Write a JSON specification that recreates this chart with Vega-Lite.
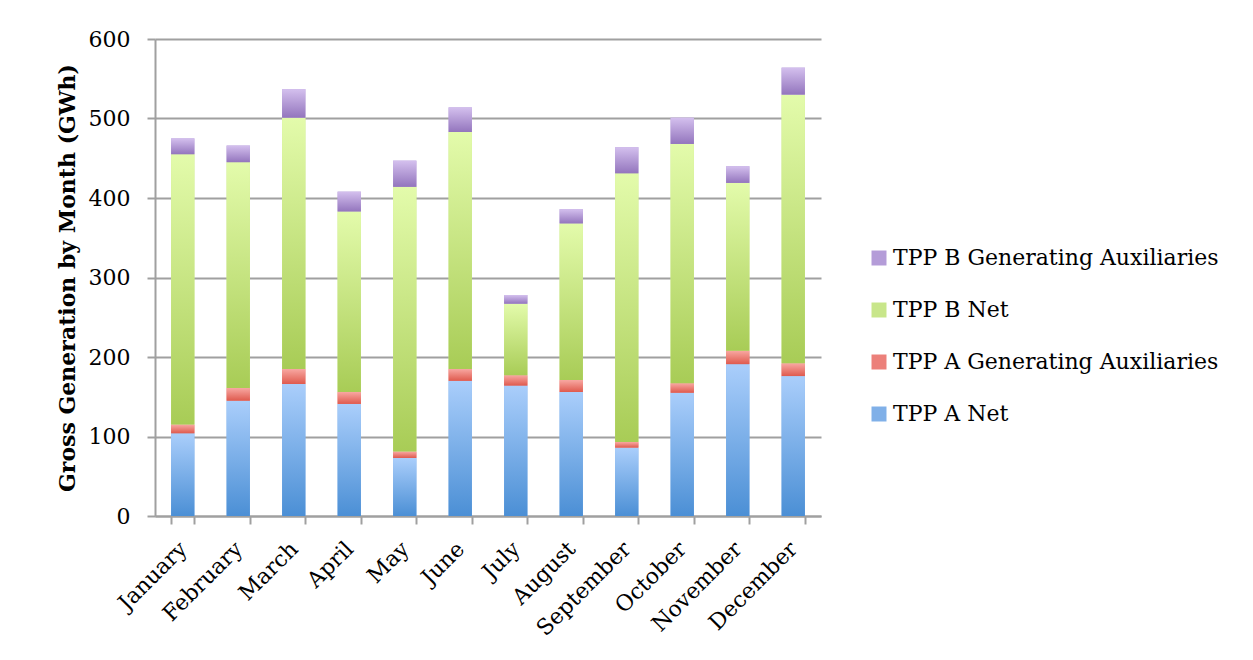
{
  "$schema": "https://vega.github.io/schema/vega-lite/v6.json",
  "width": 666,
  "height": 477,
  "autosize": "none",
  "padding": {"left": 155, "top": 39, "right": 432, "bottom": 144},
  "background": "white",
  "config": {
    "font": "DejaVu Serif",
    "view": {"stroke": null}
  },
  "data": {
    "values": [
      {"month": "January", "series": "TPP A Net", "gwh": 104},
      {"month": "January", "series": "TPP A Generating Auxiliaries", "gwh": 11},
      {"month": "January", "series": "TPP B Net", "gwh": 340},
      {"month": "January", "series": "TPP B Generating Auxiliaries", "gwh": 20},
      {"month": "February", "series": "TPP A Net", "gwh": 145},
      {"month": "February", "series": "TPP A Generating Auxiliaries", "gwh": 16},
      {"month": "February", "series": "TPP B Net", "gwh": 284},
      {"month": "February", "series": "TPP B Generating Auxiliaries", "gwh": 21},
      {"month": "March", "series": "TPP A Net", "gwh": 166},
      {"month": "March", "series": "TPP A Generating Auxiliaries", "gwh": 19},
      {"month": "March", "series": "TPP B Net", "gwh": 316},
      {"month": "March", "series": "TPP B Generating Auxiliaries", "gwh": 36},
      {"month": "April", "series": "TPP A Net", "gwh": 141},
      {"month": "April", "series": "TPP A Generating Auxiliaries", "gwh": 15},
      {"month": "April", "series": "TPP B Net", "gwh": 227},
      {"month": "April", "series": "TPP B Generating Auxiliaries", "gwh": 25},
      {"month": "May", "series": "TPP A Net", "gwh": 73},
      {"month": "May", "series": "TPP A Generating Auxiliaries", "gwh": 8},
      {"month": "May", "series": "TPP B Net", "gwh": 333},
      {"month": "May", "series": "TPP B Generating Auxiliaries", "gwh": 33},
      {"month": "June", "series": "TPP A Net", "gwh": 170},
      {"month": "June", "series": "TPP A Generating Auxiliaries", "gwh": 15},
      {"month": "June", "series": "TPP B Net", "gwh": 298},
      {"month": "June", "series": "TPP B Generating Auxiliaries", "gwh": 31},
      {"month": "July", "series": "TPP A Net", "gwh": 164},
      {"month": "July", "series": "TPP A Generating Auxiliaries", "gwh": 13},
      {"month": "July", "series": "TPP B Net", "gwh": 90},
      {"month": "July", "series": "TPP B Generating Auxiliaries", "gwh": 11},
      {"month": "August", "series": "TPP A Net", "gwh": 156},
      {"month": "August", "series": "TPP A Generating Auxiliaries", "gwh": 15},
      {"month": "August", "series": "TPP B Net", "gwh": 197},
      {"month": "August", "series": "TPP B Generating Auxiliaries", "gwh": 18},
      {"month": "September", "series": "TPP A Net", "gwh": 86},
      {"month": "September", "series": "TPP A Generating Auxiliaries", "gwh": 7},
      {"month": "September", "series": "TPP B Net", "gwh": 338},
      {"month": "September", "series": "TPP B Generating Auxiliaries", "gwh": 33},
      {"month": "October", "series": "TPP A Net", "gwh": 155},
      {"month": "October", "series": "TPP A Generating Auxiliaries", "gwh": 12},
      {"month": "October", "series": "TPP B Net", "gwh": 301},
      {"month": "October", "series": "TPP B Generating Auxiliaries", "gwh": 33},
      {"month": "November", "series": "TPP A Net", "gwh": 191},
      {"month": "November", "series": "TPP A Generating Auxiliaries", "gwh": 17},
      {"month": "November", "series": "TPP B Net", "gwh": 211},
      {"month": "November", "series": "TPP B Generating Auxiliaries", "gwh": 21},
      {"month": "December", "series": "TPP A Net", "gwh": 176},
      {"month": "December", "series": "TPP A Generating Auxiliaries", "gwh": 16},
      {"month": "December", "series": "TPP B Net", "gwh": 338},
      {"month": "December", "series": "TPP B Generating Auxiliaries", "gwh": 34}
    ]
  },
  "transform": [
    {"stack": "gwh", "groupby": ["month"], "as": ["base", "top"]}
  ],
  "encoding": {
    "x": {
      "field": "month",
      "type": "nominal",
      "sort": null,
      "scale": {"paddingInner": 0.58, "paddingOuter": 0.29},
      "axis": {
        "title": null,
        "labelAngle": -45,
        "labelAlign": "right",
        "labelBaseline": "middle",
        "labelFontSize": 22,
        "labelColor": "#000000",
        "labelPadding": 21,
        "tickBand": "extent",
        "tickSize": 8,
        "tickWidth": 2,
        "tickColor": "#a0a0a0",
        "domainColor": "#a0a0a0",
        "domainWidth": 2,
        "grid": false
      }
    },
    "y": {
      "field": "base",
      "type": "quantitative",
      "scale": {"domain": [0, 600], "nice": false},
      "axis": {
        "title": "Gross Generation by Month (GWh)",
        "titleFontSize": 22,
        "titleFontWeight": "bold",
        "titleColor": "#000000",
        "titlePadding": 9,
        "values": [0, 100, 200, 300, 400, 500, 600],
        "labelFontSize": 22,
        "labelColor": "#000000",
        "labelPadding": 17,
        "tickSize": 8,
        "tickWidth": 2,
        "tickColor": "#a0a0a0",
        "domainColor": "#a0a0a0",
        "domainWidth": 2,
        "grid": true,
        "gridColor": "#a0a0a0",
        "gridWidth": 2
      }
    },
    "y2": {"field": "top"}
  },
  "layer": [
    {
      "mark": {"type": "bar"},
      "encoding": {
        "color": {
          "field": "series",
          "type": "nominal",
          "scale": {
            "domain": ["TPP A Net", "TPP A Generating Auxiliaries", "TPP B Net", "TPP B Generating Auxiliaries"],
            "range": ["#80b0e8", "#ec807a", "#c8e68a", "#b49cd8"]
          },
          "legend": {
            "title": null,
            "orient": "none",
            "legendX": 713,
            "legendY": 208,
            "values": ["TPP B Generating Auxiliaries", "TPP B Net", "TPP A Generating Auxiliaries", "TPP A Net"],
            "symbolType": "square",
            "symbolSize": 225,
            "symbolStrokeWidth": 0,
            "symbolOpacity": 1,
            "labelFontSize": 22,
            "labelColor": "#000000",
            "labelOffset": 3,
            "labelLimit": 400,
            "rowPadding": 30
          }
        }
      }
    },
    {
      "transform": [{"filter": "datum.series === 'TPP A Net'"}],
      "mark": {"type": "bar", "color": {"gradient": "linear", "x1": 0, "y1": 0, "x2": 0, "y2": 1, "stops": [{"offset": 0, "color": "#aacefb"}, {"offset": 1, "color": "#4b8fd5"}]}}
    },
    {
      "transform": [{"filter": "datum.series === 'TPP A Generating Auxiliaries'"}],
      "mark": {"type": "bar", "color": {"gradient": "linear", "x1": 0, "y1": 0, "x2": 0, "y2": 1, "stops": [{"offset": 0, "color": "#f8a8a2"}, {"offset": 1, "color": "#df5a4e"}]}}
    },
    {
      "transform": [{"filter": "datum.series === 'TPP B Net'"}],
      "mark": {"type": "bar", "color": {"gradient": "linear", "x1": 0, "y1": 0, "x2": 0, "y2": 1, "stops": [{"offset": 0, "color": "#e3fbab"}, {"offset": 1, "color": "#a8cc56"}]}}
    },
    {
      "transform": [{"filter": "datum.series === 'TPP B Generating Auxiliaries'"}],
      "mark": {"type": "bar", "color": {"gradient": "linear", "x1": 0, "y1": 0, "x2": 0, "y2": 1, "stops": [{"offset": 0, "color": "#d4c0ee"}, {"offset": 1, "color": "#9375bd"}]}}
    }
  ]
}
